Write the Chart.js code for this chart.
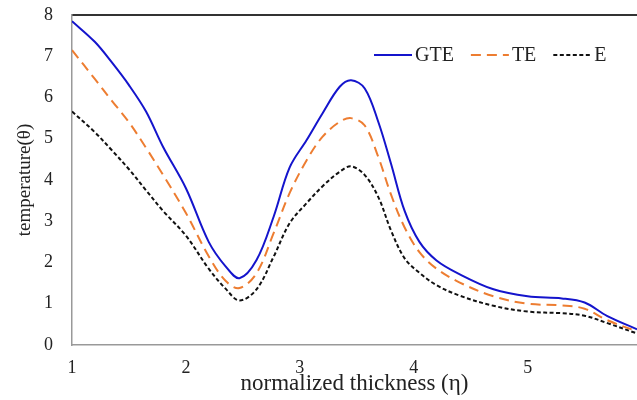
<!DOCTYPE html>
<html>
<head>
<meta charset="utf-8">
<script src="https://cdn.jsdelivr.net/npm/chart.js@4.4.0/dist/chart.umd.min.js"></script>
<style>
  html, body { margin: 0; padding: 0; background: #fff; }
  #wrap { width: 637px; height: 400px; position: relative; }
</style>
</head>
<body>
<div id="wrap"><canvas id="c" width="637" height="400"></canvas></div>
<script>
// ---- data ----
const etaValues = [1, 1.2, 1.35, 1.5, 1.65, 1.8, 2, 2.2, 2.35, 2.47, 2.62, 2.77, 2.91, 3.06, 3.2, 3.35, 3.45, 3.57, 3.69, 3.8, 3.92, 4.05, 4.2, 4.4, 4.7, 5.0, 5.3, 5.5, 5.7, 5.96];
const gteValues = [7.85, 7.35, 6.85, 6.3, 5.66, 4.8, 3.8, 2.5, 1.9, 1.62, 2.06, 3.11, 4.3, 4.97, 5.62, 6.26, 6.42, 6.22, 5.4, 4.4, 3.25, 2.5, 2.05, 1.72, 1.35, 1.18, 1.13, 1.03, 0.7, 0.38];
const teValues  = [7.15, 6.45, 5.92, 5.4, 4.78, 4.12, 3.2, 2.15, 1.55, 1.38, 1.74, 2.71, 3.68, 4.48, 5.05, 5.41, 5.5, 5.32, 4.55, 3.65, 2.85, 2.25, 1.85, 1.52, 1.18, 1.0, 0.96, 0.88, 0.6, 0.33];
const eValues   = [5.66, 5.16, 4.72, 4.26, 3.75, 3.25, 2.65, 1.85, 1.36, 1.08, 1.35, 2.14, 2.95, 3.44, 3.85, 4.2, 4.33, 4.12, 3.58, 2.78, 2.1, 1.75, 1.45, 1.2, 0.95, 0.81, 0.77, 0.71, 0.53, 0.28];
const seriesNames = ['GTE', 'TE', 'E'];
const xTickValues = [1, 2, 3, 4, 5];
const yTickValues = [0, 1, 2, 3, 4, 5, 6, 7, 8];
const xTitle = 'normalized thickness (η)';
const yTitle = 'temperature(θ)';

const FONT = "'Liberation Serif', 'Times New Roman', serif";

function pts(vals) { return etaValues.map((x, i) => ({ x: x, y: vals[i] })); }

const legendPlugin = {
  id: 'insideLegend',
  afterDraw(chart) {
    const ctx = chart.ctx;
    ctx.save();
    ctx.font = '20px ' + FONT;
    ctx.textBaseline = 'middle';
    let x = 374;
    const y = 55;
    chart.data.datasets.forEach(ds => {
      ctx.strokeStyle = ds.borderColor;
      ctx.lineWidth = ds.borderWidth;
      ctx.setLineDash(ds.borderDash || []);
      ctx.beginPath();
      ctx.moveTo(x, y);
      ctx.lineTo(x + 38, y);
      ctx.stroke();
      ctx.setLineDash([]);
      ctx.fillStyle = '#222';
      ctx.fillText(ds.label, x + 41, y + 1);
      x += 41 + ctx.measureText(ds.label).width + 17;
    });
    ctx.restore();
  }
};

new Chart(document.getElementById('c'), {
  type: 'line',
  data: {
    datasets: [
      { label: seriesNames[0], data: pts(gteValues), borderColor: '#1414CC', borderWidth: 2, borderDash: [], pointRadius: 0, tension: 0.35, fill: false },
      { label: seriesNames[1], data: pts(teValues),  borderColor: '#ED7D31', borderWidth: 2, borderDash: [10, 6], pointRadius: 0, tension: 0.35, fill: false },
      { label: seriesNames[2], data: pts(eValues),   borderColor: '#111111', borderWidth: 2, borderDash: [4, 2.5], pointRadius: 0, tension: 0.35, fill: false }
    ]
  },
  options: {
    responsive: false,
    animation: false,
    devicePixelRatio: 1,
    layout: { padding: 0 },
    plugins: { legend: { display: false }, tooltip: { enabled: false } },
    scales: {
      x: {
        type: 'linear', min: 1, max: 5.96,
        afterBuildTicks: s => { s.ticks = xTickValues.map(v => ({ value: v })); },
        afterFit: s => { s.height = 55; },
        grid: { display: false, drawTicks: false },
        border: { display: true, color: '#999', width: 1.5 },
        ticks: { font: { family: FONT, size: 18 }, color: '#222', padding: 12, maxRotation: 0 },
        title: { display: true, text: xTitle, font: { family: FONT, size: 23 }, color: '#222', padding: { top: 0, bottom: 2 } }
      },
      xTop: {
        type: 'linear', position: 'top', min: 1, max: 5.96,
        afterFit: s => { s.height = 15; },
        grid: { display: false, drawTicks: false },
        border: { display: true, color: '#333', width: 2 },
        ticks: { display: false }
      },
      y: {
        min: 0, max: 8,
        afterBuildTicks: s => { s.ticks = yTickValues.map(v => ({ value: v })); },
        afterFit: s => { s.width = 72; s.paddingTop = 10; s.paddingBottom = 10; },
        grid: { display: false, drawTicks: false },
        border: { display: true, color: '#999', width: 1.5 },
        ticks: { font: { family: FONT, size: 18 }, color: '#222', padding: 19 },
        title: { display: true, text: yTitle, font: { family: FONT, size: 19 }, color: '#222', padding: { top: 14, bottom: 0 } }
      }
    }
  },
  plugins: [legendPlugin]
});
</script>
</body>
</html>
